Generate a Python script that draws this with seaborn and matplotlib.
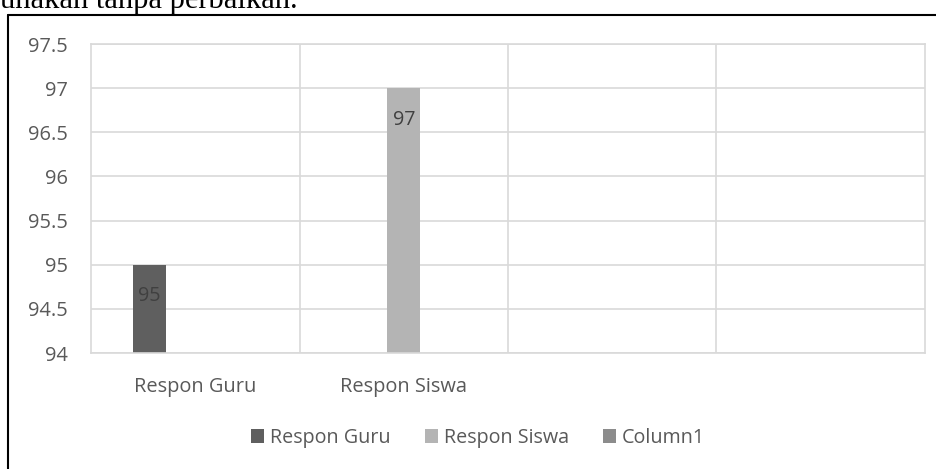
import matplotlib
matplotlib.use("Agg")
import matplotlib.pyplot as plt
from matplotlib.lines import Line2D
import seaborn as sns
import pandas as pd
import numpy as np

# ---- data ----
categories = ["Respon Guru", "Respon Siswa", "Kategori 3", "Kategori 4"]
category_labels = ["Respon Guru", "Respon Siswa", "", ""]
series = ["Respon Guru", "Respon Siswa", "Column1"]
respon_guru = [95, np.nan, np.nan, np.nan]
respon_siswa = [np.nan, 97, np.nan, np.nan]
column1 = [np.nan, np.nan, np.nan, np.nan]
series_colors = ["#5f5f5f", "#b4b4b4", "#8c8c8c"]
y_ticks = [94, 94.5, 95, 95.5, 96, 96.5, 97, 97.5]
header_text = "unakan tanpa perbaikan."

rows = []
for s, vals in zip(series, [respon_guru, respon_siswa, column1]):
    for c, v in zip(categories, vals):
        rows.append({"category": c, "series": s, "value": v})
df = pd.DataFrame(rows)

sns.set_style("white")
plt.rcParams["font.family"] = ["Open Sans", "DejaVu Sans"]

fig = plt.figure(figsize=(9.37, 4.69), dpi=100)
ax = fig.add_axes([91 / 937, 1 - 353 / 469, (925 - 91) / 937, (353 - 44) / 469])

sns.barplot(data=df, x="category", y="value", hue="series",
            order=categories, hue_order=series, palette=series_colors,
            width=0.655, gap=0.275, ax=ax, saturation=1, legend=True,
            errorbar=None, linewidth=0)

for cont in ax.containers:
    ax.bar_label(cont, fmt="%g", padding=-30, color="#404040", fontsize=14.2)

ax.set_ylim(y_ticks[0], y_ticks[-1])
ax.set_yticks(y_ticks)
ax.set_yticklabels([f"{t:g}" for t in y_ticks])
ax.set_xlim(-0.5, len(categories) - 0.5)
ax.set_xticks(range(len(categories)))
ax.set_xticklabels(category_labels)
ax.set_xticks(np.arange(0.5, len(categories) - 0.5, 1), minor=True)
ax.set_xlabel("")
ax.set_ylabel("")

ax.grid(True, axis="y", color="#d9d9d9", lw=1.2)
ax.grid(True, axis="x", which="minor", color="#d9d9d9", lw=1.2)
ax.grid(False, axis="x", which="major")
ax.set_axisbelow(True)
for sp in ax.spines.values():
    sp.set_visible(True)
    sp.set_color("#d9d9d9")
    sp.set_linewidth(1.2)

ax.tick_params(axis="both", which="both", length=0, colors="#595959", labelsize=14.4)
ax.tick_params(axis="y", pad=16.5)
ax.tick_params(axis="x", pad=17)

sns.move_legend(ax, "center", bbox_to_anchor=(478 / 937, 1 - 438 / 469),
                bbox_transform=fig.transFigure, ncol=3, frameon=False, title=None,
                handlelength=0.65, handleheight=0.65, handletextpad=0.3,
                columnspacing=1.75, fontsize=14.2)
leg = ax.get_legend()
for t in leg.get_texts():
    t.set_color("#595959")

# chart border (left and top visible in the screenshot)
fig.add_artist(Line2D([8.5 / 937, 8.5 / 937], [0, 1 - 15 / 469], color="black", lw=1.5,
                      transform=fig.transFigure))
fig.add_artist(Line2D([8.5 / 937, 1.0], [1 - 15 / 469, 1 - 15 / 469], color="black", lw=1.5,
                      transform=fig.transFigure))

fig.text(0.0, 1 - 8 / 469, header_text, family="Liberation Serif", fontsize=22,
         color="black", ha="left", va="baseline")

fig.savefig("out.png", dpi=100)
